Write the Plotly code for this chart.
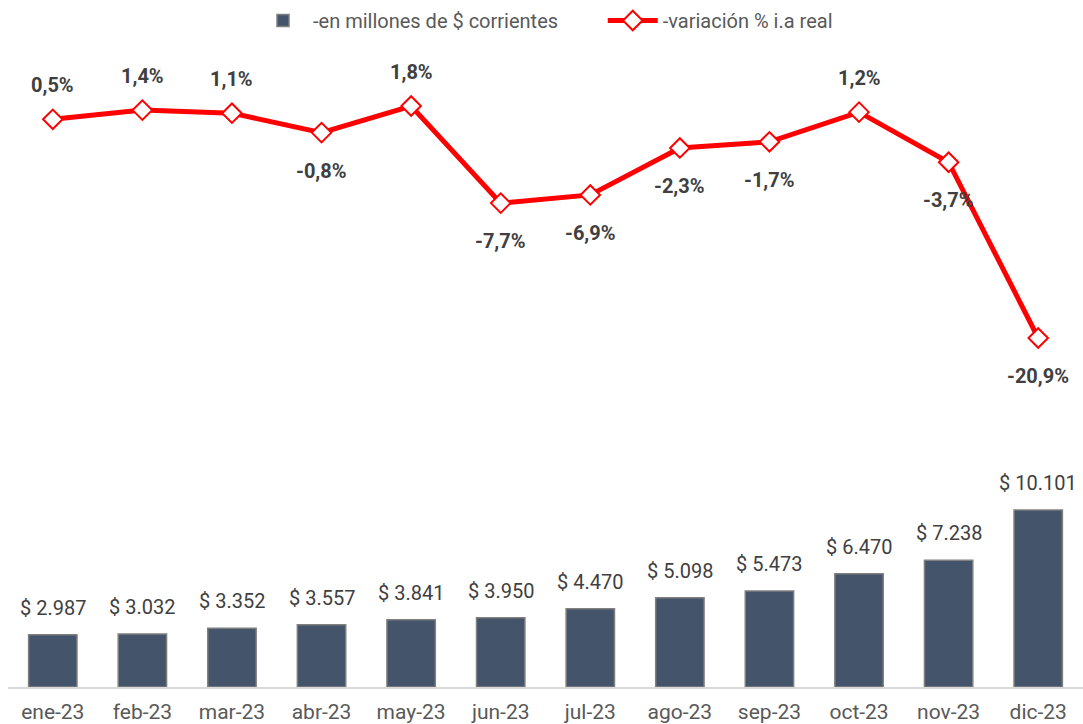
import plotly.graph_objects as go

months = ["ene-23", "feb-23", "mar-23", "abr-23", "may-23", "jun-23",
          "jul-23", "ago-23", "sep-23", "oct-23", "nov-23", "dic-23"]
montos = [2987, 3032, 3352, 3557, 3841, 3950, 4470, 5098, 5473, 6470, 7238, 10101]
variacion = [0.5, 1.4, 1.1, -0.8, 1.8, -7.7, -6.9, -2.3, -1.7, 1.2, -3.7, -20.9]
label_above = [True, True, True, False, True, False, False, False, False, True, False, False]

FONT = "Roboto, Liberation Sans, Arial, sans-serif"

def fmt_money(v):
    return "$ " + f"{v:,}".replace(",", ".")

def fmt_pct(v):
    return f"{v:.1f}".replace(".", ",") + "%"

fig = go.Figure()
fig.add_trace(go.Bar(
    x=months, y=montos, name="-en millones de $ corrientes" + "\u00a0" * 8,
    marker=dict(color="#44546A", line=dict(color="#7F7F7F", width=1.5)),
    width=0.54, yaxis="y",
))
fig.add_trace(go.Scatter(
    x=months, y=variacion, name="-variación % i.a real", mode="lines+markers",
    line=dict(color="#FF0000", width=5),
    marker=dict(symbol="diamond", size=15, color="white", line=dict(color="#FF0000", width=2)),
    yaxis="y2",
))

annotations = []
for m, v in zip(months, montos):
    annotations.append(dict(x=m, y=v, xref="x", yref="y", text=fmt_money(v),
                            showarrow=False, yanchor="bottom", yshift=13,
                            font=dict(family=FONT, size=20, color="#404040")))
for m, v, up in zip(months, variacion, label_above):
    annotations.append(dict(x=m, y=v, xref="x", yref="y2", text="<b>" + fmt_pct(v) + "</b>",
                            showarrow=False, yanchor="middle", yshift=34 if up else -38,
                            font=dict(family=FONT, size=20, color="#404040")))

fig.update_layout(
    width=1083, height=724,
    margin=dict(l=8, r=0, t=40, b=37),
    plot_bgcolor="white", paper_bgcolor="white",
    font=dict(family=FONT, size=20, color="#595959"),
    showlegend=True,
    legend=dict(orientation="h", x=0.5, xanchor="center", y=1.0, yanchor="bottom",
                font=dict(family=FONT, size=20, color="#595959"), itemwidth=50,
                traceorder="normal"),
    xaxis=dict(range=[-0.5, 11.5], showline=True, linecolor="#D9D9D9", linewidth=2, showgrid=False,
               ticks="outside", ticklen=5, tickcolor="rgba(0,0,0,0)",
               tickfont=dict(family=FONT, size=21, color="#595959")),
    yaxis=dict(range=[0, 36930], visible=False, showgrid=False),
    yaxis2=dict(range=[-55.05, 8.26], overlaying="y", side="right", visible=False, showgrid=False),
    annotations=annotations,
)

fig.write_html("out.html")
